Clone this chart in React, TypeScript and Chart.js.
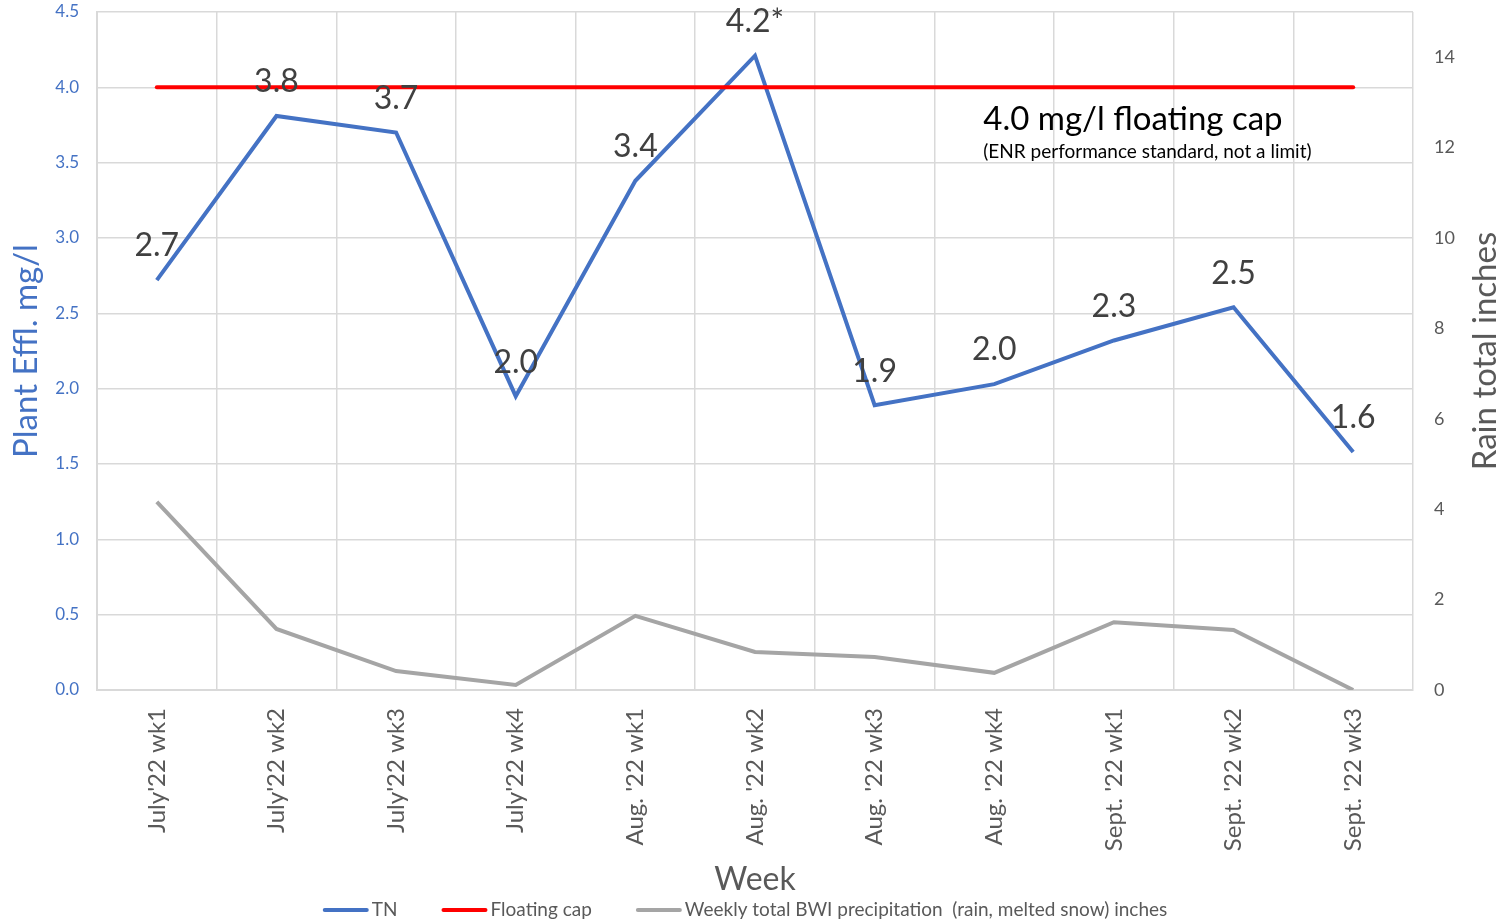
import React, { useEffect, useRef } from "react";
import { Chart, registerables } from "chart.js";

Chart.register(...registerables);

const weeks = [
  "July'22 wk1", "July'22 wk2", "July'22 wk3", "July'22 wk4",
  "Aug. '22 wk1", "Aug. '22 wk2", "Aug. '22 wk3", "Aug. '22 wk4",
  "Sept. '22 wk1", "Sept. '22 wk2", "Sept. '22 wk3",
];
const tnValues = [2.72, 3.81, 3.7, 1.95, 3.38, 4.21, 1.89, 2.03, 2.32, 2.54, 1.58];
const tnLabels = ["2.7", "3.8", "3.7", "2.0", "3.4", "4.2*", "1.9", "2.0", "2.3", "2.5", "1.6"];
const capValues = [4, 4, 4, 4, 4, 4, 4, 4, 4, 4, 4];
const rainValues = [4.16, 1.35, 0.42, 0.11, 1.64, 0.84, 0.73, 0.38, 1.5, 1.33, 0.0];
const legendLabels = ["TN", "Floating cap", "Weekly total BWI precipitation  (rain, melted snow) inches"];

const FONT = "Lato, 'Open Sans', sans-serif";
const BLUE = "#4472C4";
const RED = "#FF0000";
const GRAY = "#A5A5A5";
const TEXT = "#595959";
const GRID = "#D9D9D9";

const zeroPad = (scale: any) => {
  scale.paddingTop = 0;
  scale.paddingBottom = 0;
  scale.paddingLeft = 0;
  scale.paddingRight = 0;
};

const overlay = {
  id: "overlay",
  afterDatasetsDraw(chart: any) {
    const ctx = chart.ctx;
    const area = chart.chartArea;
    const meta = chart.getDatasetMeta(0);
    ctx.save();
    // data labels
    ctx.fillStyle = "#404040";
    ctx.font = `32px ${FONT}`;
    ctx.textAlign = "center";
    ctx.textBaseline = "middle";
    meta.data.forEach((pt: any, i: number) => {
      ctx.fillText(tnLabels[i], pt.x, pt.y - 34);
    });
    // annotation
    const yScale = chart.scales.y;
    const xScale = chart.scales.x;
    const annX = xScale.getPixelForValue(7) - 11;
    const capY = yScale.getPixelForValue(4);
    ctx.textAlign = "left";
    ctx.fillStyle = "#000000";
    ctx.font = `33px ${FONT}`;
    ctx.fillText("4.0 mg/l floating cap", annX, capY + 32);
    ctx.font = `19px ${FONT}`;
    ctx.fillText("(ENR performance standard, not a limit)", annX, capY + 65);
    // axis titles
    ctx.font = `33px ${FONT}`;
    ctx.fillStyle = BLUE;
    ctx.textAlign = "center";
    ctx.save();
    ctx.translate(26, (area.top + area.bottom) / 2);
    ctx.rotate(-Math.PI / 2);
    ctx.fillText("Plant Effl. mg/l", 0, 0);
    ctx.restore();
    ctx.fillStyle = TEXT;
    ctx.font = `33px ${FONT}`;
    ctx.save();
    ctx.translate(1485, (area.top + area.bottom) / 2);
    ctx.rotate(-Math.PI / 2);
    ctx.fillText("Rain total inches", 0, 0);
    ctx.restore();
    ctx.font = `32px ${FONT}`;
    ctx.fillText("Week", (area.left + area.right) / 2, 880);
    // legend
    ctx.font = `19px ${FONT}`;
    const colors = [BLUE, RED, GRAY];
    const lineLen = 46;
    const gap = 3;
    const between = 44;
    const widths = legendLabels.map((t) => lineLen + gap + ctx.measureText(t).width);
    const total = widths.reduce((a, b) => a + b, 0) + between * (widths.length - 1);
    let x = 745 - total / 2;
    const ly = 910;
    ctx.textAlign = "left";
    legendLabels.forEach((t, i) => {
      ctx.strokeStyle = colors[i];
      ctx.lineWidth = 4;
      ctx.lineCap = "round";
      ctx.beginPath();
      ctx.moveTo(x + 2, ly);
      ctx.lineTo(x + lineLen - 2, ly);
      ctx.stroke();
      ctx.fillStyle = TEXT;
      ctx.fillText(t, x + lineLen + gap, ly);
      x += widths[i] + between;
    });
    ctx.restore();
  },
};

export default function App() {
  const ref = useRef<HTMLCanvasElement | null>(null);
  useEffect(() => {
    document.body.style.margin = "0";
    const chart = new Chart(ref.current as HTMLCanvasElement, {
      type: "line",
      data: {
        labels: weeks,
        datasets: [
          {
            label: legendLabels[0],
            data: tnValues,
            borderColor: BLUE,
            backgroundColor: BLUE,
            borderWidth: 4,
            pointRadius: 0,
            tension: 0,
            yAxisID: "y",
            order: 2,
          },
          {
            label: legendLabels[1],
            data: capValues,
            borderColor: RED,
            backgroundColor: RED,
            borderWidth: 4,
            borderCapStyle: "round",
            pointRadius: 0,
            yAxisID: "y",
            order: 1,
          },
          {
            label: legendLabels[2],
            data: rainValues,
            borderColor: GRAY,
            backgroundColor: GRAY,
            borderWidth: 4,
            pointRadius: 0,
            tension: 0,
            yAxisID: "y2",
            order: 3,
          },
        ],
      },
      options: {
        responsive: false,
        animation: false,
        layout: { padding: { top: 12, bottom: 0, left: 0, right: 0 } },
        plugins: { legend: { display: false }, tooltip: { enabled: false } },
        scales: {
          x: {
            offset: true,
            grid: { offset: true, color: GRID, lineWidth: 1.5, drawTicks: false },
            border: { color: GRID, width: 2 },
            ticks: {
              color: TEXT,
              font: { family: FONT, size: 24 },
              minRotation: 90,
              maxRotation: 90,
              padding: 18,
              autoSkip: false,
            },
            afterFit(scale: any) {
              scale.height = 234;
              zeroPad(scale);
            },
          },
          y: {
            position: "left",
            min: 0,
            max: 4.5,
            grid: { color: GRID, lineWidth: 1.5, drawTicks: false },
            border: { color: GRID, width: 2 },
            ticks: {
              stepSize: 0.5,
              color: BLUE,
              font: { family: FONT, size: 17 },
              padding: 18,
              callback: (v: any) => Number(v).toFixed(1),
            },
            afterFit(scale: any) {
              scale.width = 97;
              zeroPad(scale);
            },
          },
          y2: {
            position: "right",
            min: 0,
            max: 15,
            grid: { display: false, drawTicks: false },
            border: { display: false },
            ticks: {
              stepSize: 2,
              includeBounds: false,
              color: TEXT,
              font: { family: FONT, size: 18 },
              padding: 21,
            },
            afterFit(scale: any) {
              scale.width = 97;
              zeroPad(scale);
            },
          },
        },
      },
      plugins: [overlay],
    } as any);
    return () => chart.destroy();
  }, []);
  return (
    <canvas
      ref={ref}
      width={1510}
      height={924}
      style={{ display: "block", position: "absolute", left: 0, top: 0 }}
    />
  );
}
